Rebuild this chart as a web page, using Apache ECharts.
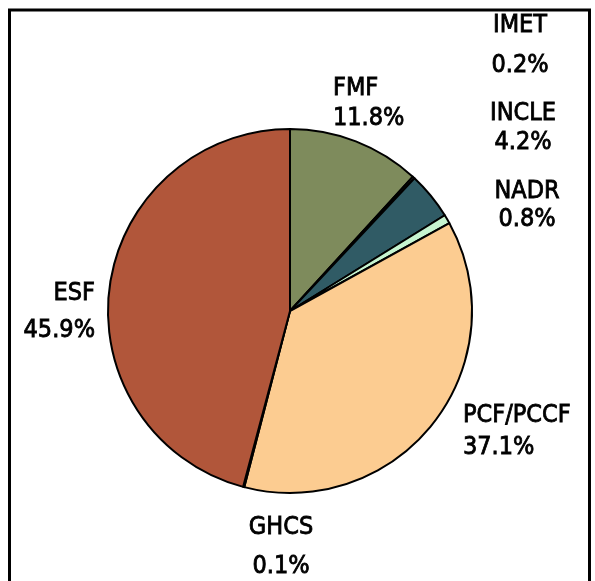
<!DOCTYPE html>
<html>
<head>
<meta charset="utf-8">
<script src="https://cdn.jsdelivr.net/npm/echarts@6/dist/echarts.min.js"></script>
<style>html,body{margin:0;padding:0;background:#fff;}#c{width:595px;height:581px;}</style>
</head>
<body>
<div id="c"></div>
<script>
var categories = ['FMF', 'IMET', 'INCLE', 'NADR', 'PCF/PCCF', 'GHCS', 'ESF'];
var values = [11.8, 0.2, 4.2, 0.8, 37.1, 0.1, 45.9];
var colors = ['#7e8b5c', '#3a3a3a', '#305b65', '#c6f4d0', '#fccc91', '#555555', '#b1563a'];

// label placement (x, y, align, lineHeight)
var labelPlace = [
  {x: 333, y: 103, align: 'left', lh: 30},
  {x: 520, y: 45, align: 'center', lh: 40},
  {x: 523, y: 128, align: 'center', lh: 29},
  {x: 527, y: 205, align: 'center', lh: 28},
  {x: 463, y: 431, align: 'left', lh: 32},
  {x: 281, y: 547, align: 'center', lh: 39},
  {x: 95, y: 312, align: 'right', lh: 37}
];

var chart = echarts.init(document.getElementById('c'), null, {renderer: 'canvas'});
var data = categories.map(function (n, i) {
  return {
    name: n,
    value: values[i],
    itemStyle: {color: colors[i]},
    label: {lineHeight: labelPlace[i].lh}
  };
});
chart.setOption({
  animation: false,
  backgroundColor: '#fff',
  graphic: [{
    type: 'rect',
    shape: {x: 9.5, y: 10, width: 580, height: 600},
    style: {fill: 'none', stroke: '#000', lineWidth: 3},
    z: 100
  }],
  series: [{
    type: 'pie',
    center: [290, 311],
    radius: 182,
    startAngle: 90,
    clockwise: true,
    avoidLabelOverlap: false,
    minAngle: 0,
    itemStyle: {borderColor: '#000', borderWidth: 2},
    label: {
      show: true,
      position: 'outside',
      formatter: function (p) { return p.name + '\n' + p.value.toFixed(1) + '%'; },
      fontFamily: 'DejaVu Sans Condensed',
      fontSize: 25,
      color: '#000',
      textBorderColor: '#000',
      textBorderWidth: 0.8
    },
    labelLine: {show: false},
    labelLayout: function (params) {
      var p = labelPlace[params.dataIndex];
      return {x: p.x, y: p.y, align: p.align, verticalAlign: 'middle'};
    },
    emphasis: {disabled: true},
    data: data
  }]
});
</script>
</body>
</html>
